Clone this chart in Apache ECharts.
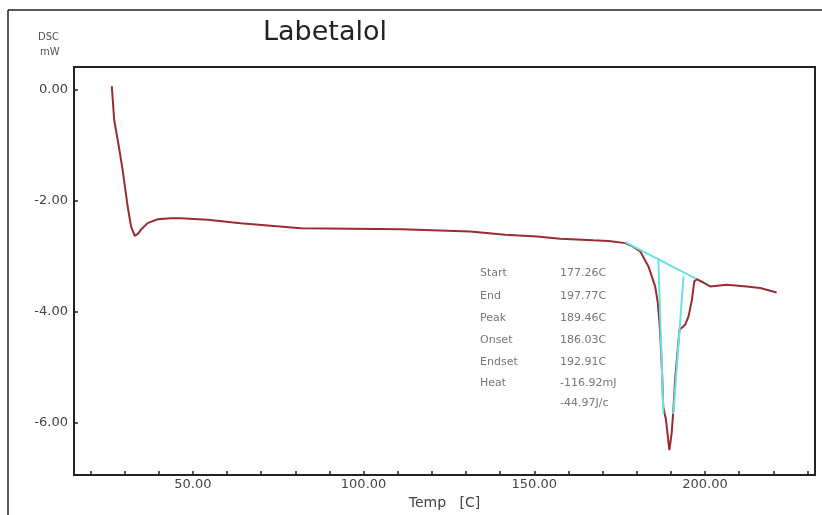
<!DOCTYPE html>
<html><head><meta charset="utf-8">
<script src="https://cdn.jsdelivr.net/npm/echarts@6/dist/echarts.min.js"></script>
<style>html,body{margin:0;padding:0;background:#fff}#c{width:822px;height:515px}</style>
</head><body><div id="c"></div>
<script>
// DSC curve (Temp °C, mW)
const temp = [26.27,26.97,28.25,29.44,30.92,31.91,32.98,33.98,34.77,36.75,39.72,43.57,46.44,54.34,64.03,81.62,111.07,111.27,131.23,131.33,141.51,150.80,157.62,167.21,171.85,176.59,178.77,181.04,183.42,185.39,186.18,186.87,187.37,187.76,188.55,189.55,190.24,190.73,191.23,191.92,192.51,194.18,195.17,196.16,196.86,197.55,199.52,201.50,206.34,212.17,216.12,220.97];
const dsc  = [0.06,-0.55,-1.0,-1.45,-2.11,-2.47,-2.64,-2.60,-2.53,-2.41,-2.34,-2.32,-2.32,-2.35,-2.41,-2.50,-2.52,-2.55,-2.56,-2.58,-2.62,-2.65,-2.69,-2.72,-2.73,-2.77,-2.83,-2.92,-3.19,-3.55,-3.85,-4.39,-5.05,-5.72,-5.95,-6.50,-6.19,-5.77,-5.23,-4.75,-4.33,-4.24,-4.09,-3.79,-3.46,-3.42,-3.48,-3.55,-3.52,-3.55,-3.58,-3.66];
// analysis construction lines
const baseX = [176.6, 197.3], baseY = [-2.75, -3.41];
const leftTanX = [186.3, 187.8], leftTanY = [-3.04, -5.85];
const rightTanX = [193.7, 190.7], rightTanY = [-3.37, -5.85];
// axis ticks / labels
const xTickVals = [20,30,40,50,60,70,80,90,100,110,120,130,140,150,160,170,180,190,200,210,220,230];
const xLabelVals = [50,100,150,200];
const yVals = [0,-2,-4,-6];
// results table
const resNames = ['Start','End','Peak','Onset','Endset','Heat',''];
const resVals = ['177.26C','197.77C','189.46C','186.03C','192.91C','-116.92mJ','-44.97J/c'];
const resRowY = [273,296,318,340,362,383,403];

const FONT = '"DejaVu Sans", sans-serif';
const zip = (a,b)=>a.map((v,i)=>[v,b[i]]);
const chart = echarts.init(document.getElementById('c'));
const graphics = [
  {type:'line', shape:{x1:8,y1:10,x2:8,y2:515}, style:{stroke:'#222',lineWidth:1.5}},
  {type:'line', shape:{x1:8,y1:10,x2:822,y2:10}, style:{stroke:'#222',lineWidth:1.5}},
  {type:'text', x:263, y:33, style:{text:'Labetalol', font:'27px ' + FONT, fill:'#222', verticalAlign:'middle'}},
  {type:'text', x:38, y:37, style:{text:'DSC', font:'10px ' + FONT, fill:'#555', verticalAlign:'middle'}},
  {type:'text', x:40, y:52, style:{text:'mW', font:'10px ' + FONT, fill:'#555', verticalAlign:'middle'}}
];
resNames.forEach((n,i)=>{
  const y = resRowY[i];
  if(n) graphics.push({type:'text', x:480, y:y, style:{text:n, font:'11px ' + FONT, fill:'#777', verticalAlign:'middle'}});
  graphics.push({type:'text', x:560, y:y, style:{text:resVals[i], font:'11px ' + FONT, fill:'#777', verticalAlign:'middle'}});
});
chart.setOption({
  animation:false,
  grid:{left:74, top:67, right:7, bottom:40, show:true, borderColor:'#222', borderWidth:2, outerBoundsMode:'none', containLabel:false},
  xAxis:{type:'value', min:15.2, max:232.2, name:'Temp   [C]', nameLocation:'middle', nameGap:19,
    nameTextStyle:{color:'#444', fontSize:14, fontFamily:'DejaVu Sans'},
    axisLine:{onZero:false, lineStyle:{color:'#222',width:2}},
    axisTick:{inside:true, length:4, customValues:xTickVals, lineStyle:{color:'#222',width:1.5}},
    axisLabel:{customValues:xLabelVals, formatter:v=>v.toFixed(2), color:'#444', fontSize:13, margin:3, fontFamily:'DejaVu Sans'},
    splitLine:{show:false}},
  yAxis:{type:'value', min:-6.95, max:0.405,
    axisLine:{show:true, onZero:false, lineStyle:{color:'#222',width:2}},
    axisTick:{show:true, inside:true, length:4, customValues:yVals, lineStyle:{color:'#222',width:1.5}},
    axisLabel:{customValues:yVals, formatter:v=>v.toFixed(2), color:'#444', fontSize:13, margin:6, fontFamily:'DejaVu Sans'},
    splitLine:{show:false}},
  graphic:graphics,
  series:[
    {type:'line', data:zip(baseX,baseY), symbol:'none', lineStyle:{color:'#66e3e3', width:2}, z:3},
    {type:'line', data:zip(leftTanX,leftTanY), symbol:'none', lineStyle:{color:'#66e3e3', width:2}, z:3},
    {type:'line', data:zip(rightTanX,rightTanY), symbol:'none', lineStyle:{color:'#66e3e3', width:2}, z:3},
    {type:'line', data:zip(temp,dsc), symbol:'none', lineStyle:{color:'#9a2b35', width:2}, z:2}
  ]
});
</script></body></html>
